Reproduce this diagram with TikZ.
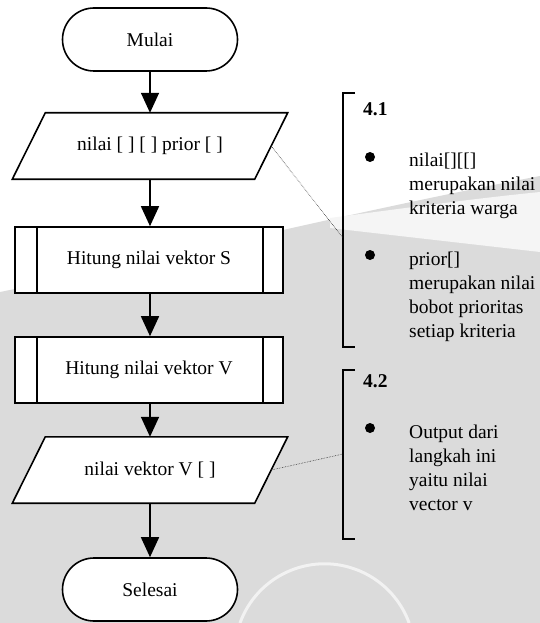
\documentclass[tikz,border=0pt]{standalone}
\usepackage{fontspec}
\setmainfont{Liberation Serif}
\usetikzlibrary{shapes.misc,arrows.meta,calc}

\tikzset{
  every node/.style={font=\fontsize{19.5}{24}\selectfont},
  chart/.style={line width=1.6pt},
  terminal/.style={chart,draw,fill=white,rounded rectangle,minimum width=175pt,minimum height=63pt,inner sep=0pt},
  iobox/.style={minimum width=242pt,minimum height=66pt,inner sep=0pt},
  subproc/.style={chart,draw,fill=white,minimum width=268pt,minimum height=66pt,inner sep=0pt},
  flow/.style={chart,-{Triangle[width=18pt,length=20pt]}},
  note/.style={densely dotted,line width=0.6pt,black!80},
  bracketline/.style={line width=1.3pt},
  notetext/.style={align=left,anchor=base west,inner sep=0pt},
  dot/.style={circle,fill=black,inner sep=0pt,minimum size=10pt},
  shade/.style={fill=black!14}
}

\begin{document}
\begin{tikzpicture}[x=1pt,y=-1pt]
  % page and light background shading
  \fill[white] (0,0) rectangle (540,623);
  \useasboundingbox (0,0) rectangle (540,623);
  \fill[shade] (0,292) .. controls (150,262) and (350,212) .. (540,176) -- (540,623) -- (0,623) -- cycle;
  \fill[black!4] (330,218) .. controls (420,206) and (480,198) .. (540,192) -- (540,252) .. controls (470,244) and (400,236) .. (330,228) -- cycle;
  \draw[black!5,line width=3pt] (240,623) arc[start angle=200,end angle=340,radius=90];

  % flowchart
  \node[terminal] (start) at (150,39.5) {Mulai};
  \node[iobox] (in) at (150,146) {};
  \node[subproc] (vs) at (149,260) {Hitung nilai vektor S};
  \node[subproc] (vv) at (149,370) {Hitung nilai vektor V};
  \node[iobox] (out) at (150,470) {};
  \node[terminal] (stop) at (150,589.5) {Selesai};

  % parallelogram outlines for the input/output nodes
  \foreach \n in {in,out}{
    \coordinate (\n-tl) at ($(\n.north west)+(16.5,0)$);
    \coordinate (\n-tr) at ($(\n.north east)+(16.5,0)$);
    \coordinate (\n-br) at ($(\n.south east)+(-16.5,0)$);
    \coordinate (\n-bl) at ($(\n.south west)+(-16.5,0)$);
    \filldraw[chart,fill=white,line join=miter] (\n-tl) -- (\n-tr) -- (\n-br) -- (\n-bl) -- cycle;
    \coordinate (\n-mid) at ($(\n-tr)!0.5!(\n-br)$);
  }
  \node[iobox] (inlabel) at (in) {nilai [ ] [ ] prior [ ]};
  \node[iobox] (outlabel) at (out) {nilai vektor V [ ]};

  % side bars of the predefined-process boxes
  \foreach \n in {vs,vv}{
    \draw[chart] ($(\n.north west)+(23,0)$) -- ($(\n.south west)+(23,0)$);
    \draw[chart] ($(\n.north east)+(-21,0)$) -- ($(\n.south east)+(-21,0)$);
  }

  % flow arrows
  \draw[flow] (start) -- (start |- in.north);
  \draw[flow] (in.south -| start) -- (start |- vs.north);
  \draw[flow] (vs.south -| start) -- (start |- vv.north);
  \draw[flow] (vv.south -| start) -- (start |- out.north);
  \draw[flow] (out.south -| start) -- (stop);

  % annotation brackets
  \coordinate (b1top) at (343,93);
  \coordinate (b1bot) at (343,347);
  \coordinate (b2top) at (343,370);
  \coordinate (b2bot) at (343,539);
  \draw[bracketline] ($(b1top)+(12,0)$) -- (b1top) -- (b1bot) -- ($(b1bot)+(12,0)$);
  \draw[bracketline] ($(b2top)+(12,0)$) -- (b2top) -- (b2bot) -- ($(b2bot)+(12,0)$);
  \coordinate (n1) at (343,238);
  \coordinate (n2) at (343,454);
  \draw[note] (in-mid) -- (n1);
  \draw[note] (out-mid) -- (n2);

  % annotation texts (anchored at the baseline of the last line)
  \node[notetext,font=\fontsize{19.5}{24}\selectfont\bfseries] (h1) at (363,116) {4.1};
  \node[dot] (d1) at (370,157) {};
  \node[notetext] (t1) at (409,214) {nilai[][[]\\merupakan nilai\\kriteria warga};
  \node[dot] (d2) at (370,255) {};
  \node[notetext] (t2) at (409,337) {prior[]\\merupakan nilai\\bobot prioritas\\setiap kriteria};
  \node[notetext,font=\fontsize{19.5}{24}\selectfont\bfseries] (h2) at (363,387) {4.2};
  \node[dot] (d3) at (370,428) {};
  \node[notetext] (t3) at (409,510) {Output dari\\langkah ini\\yaitu nilai\\vector v};
\end{tikzpicture}
\end{document}
